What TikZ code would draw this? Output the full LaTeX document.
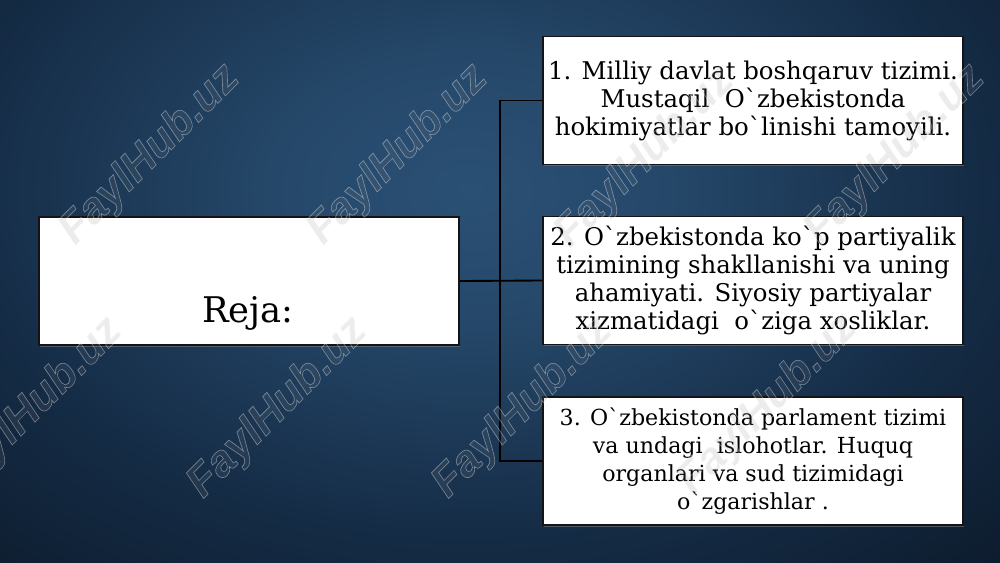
\documentclass[tikz,border=0pt]{standalone}
\usepackage{fontspec}
\newfontfamily\slab[Ligatures=TeXOff]{DejaVu Serif}
\newfontfamily\wmfont{Liberation Sans}
\usetikzlibrary{shadows}
\definecolor{bgin}{RGB}{42,80,116}
\definecolor{bgmid}{RGB}{21,44,70}
\definecolor{bgout}{RGB}{7,16,27}
\definecolor{boxline}{RGB}{20,20,22}
\pgfdeclareradialshading{slidebg}{\pgfpoint{0bp}{0bp}}{color(0bp)=(bgin); color(8bp)=(bgin!80!bgmid); color(22bp)=(bgmid); color(42bp)=(bgout); color(50bp)=(bgout)}
\newcommand{\wmoutline}[1]{\special{pdf:literal direct 1 Tr 0.5 w}#1\special{pdf:literal direct 0 Tr}}
\tikzset{
  planbox/.style={draw=boxline, line width=1.3pt, fill=white, inner sep=0pt,
    minimum width=315pt, minimum height=96pt, align=center,
    drop shadow={shadow xshift=0.8pt, shadow yshift=-1.2pt, opacity=0.55}},
  boxtext/.style={font=\slab\fontsize{18.3pt}{21pt}\selectfont},
  boxtextsm/.style={font=\slab\fontsize{16.6pt}{21pt}\selectfont},
  conn/.style={draw=black, line width=1.4pt},
  wmbase/.style={rotate=45, font=\wmfont\bfseries\itshape\fontsize{33pt}{33pt}\selectfont},
  wmfill/.style={wmbase, text=gray, text opacity=0.15},
  wmline/.style={wmbase, text=white, opacity=0.38}
}
\begin{document}
\begin{tikzpicture}[x=0.75pt, y=-0.75pt]
\useasboundingbox (0,0) rectangle (1000,562);
\begin{scope}
\clip (0,0) rectangle (1000,562);
\fill[shading=slidebg] (-100,-200) rectangle (1040,580);
\end{scope}
% boxes
\node[planbox] (reja) at (249,281) {};
\node[anchor=base, font=\slab\fontsize{26.5pt}{30pt}\selectfont] (rejalbl) at (248,322) {Reja:};
\node[planbox, boxtext] (box1) at (753,100.5) {1. Milliy davlat boshqaruv tizimi.\\Mustaqil\ \ O\symbol{96}zbekistonda\\hokimiyatlar bo\symbol{96}linishi tamoyili.};
\node[planbox, boxtext] (box2) at (753,280.5) {2. O\symbol{96}zbekistonda ko\symbol{96}p partiyalik\\tizimining shakllanishi va uning\\ahamiyati. Siyosiy partiyalar\\xizmatidagi\ \ o\symbol{96}ziga xosliklar.};
\node[planbox, boxtextsm] (box3) at (753,461) {3. O\symbol{96}zbekistonda parlament tizimi\\va undagi\ \ islohotlar. Huquq\\organlari va sud tizimidagi\\o\symbol{96}zgarishlar .};
% connectors
\coordinate (jx) at (500,281);
\draw[conn] (box1.west) -| (jx) |- (box3.west);
\draw[conn] (reja.east) -- (box2.west);
% watermarks
\foreach \n/\x/\y in {1/150/155, 2/398/155, 3/645/158, 4/895/155, 5/33/408, 6/278/408, 7/523/408, 8/768/405}{
  \node[wmfill] (wmf\n) at (\x,\y) {FaylHub.uz};
  \node[wmline] (wml\n) at (\x,\y) {\wmoutline{FaylHub.uz}};
}
\end{tikzpicture}
\end{document}
